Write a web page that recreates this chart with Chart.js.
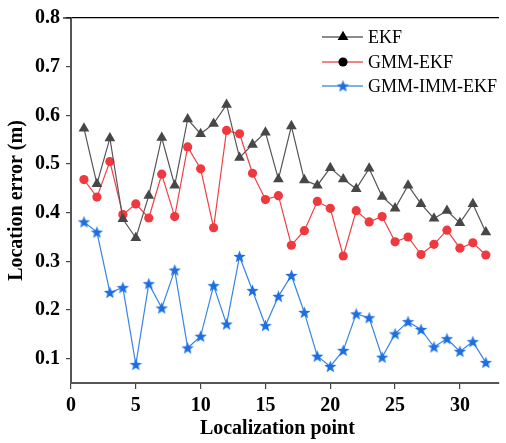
<!DOCTYPE html>
<html>
<head>
<meta charset="utf-8">
<script src="https://cdn.jsdelivr.net/npm/chart.js@4.4.1/dist/chart.umd.min.js"></script>
<style>
    html, body { margin: 0; padding: 0; background: #fff; }
    #wrap { width: 506px; height: 443px; }
</style>
</head>
<body>
<div id="wrap"><canvas id="chart" width="506" height="443"></canvas></div>
<script>
const points = [1, 2, 3, 4, 5, 6, 7, 8, 9, 10, 11, 12, 13, 14, 15, 16,
    17, 18, 19, 20, 21, 22, 23, 24, 25, 26, 27, 28, 29, 30, 31, 32];

const ekf = [0.573, 0.459, 0.553, 0.387, 0.348, 0.435, 0.554, 0.456, 0.592, 0.562, 0.583,
    0.622, 0.513, 0.540, 0.565, 0.469, 0.578, 0.467, 0.456, 0.492, 0.469, 0.449,
    0.491, 0.433, 0.409, 0.456, 0.418, 0.388, 0.404, 0.379, 0.418, 0.360];

const gmmEkf = [0.468, 0.432, 0.505, 0.396, 0.418, 0.389, 0.479, 0.392, 0.535, 0.490, 0.369,
    0.569, 0.562, 0.481, 0.427, 0.435, 0.333, 0.363, 0.423, 0.409, 0.311, 0.404,
    0.381, 0.392, 0.340, 0.350, 0.314, 0.335, 0.364, 0.327, 0.338, 0.313];

const gmmImmEkf = [0.381, 0.360, 0.236, 0.246, 0.088, 0.254, 0.204, 0.282, 0.122, 0.146, 0.250,
    0.171, 0.310, 0.240, 0.168, 0.228, 0.271, 0.195, 0.105, 0.084, 0.117, 0.192,
    0.184, 0.103, 0.151, 0.176, 0.160, 0.124, 0.141, 0.115, 0.135, 0.092];

const xTicks = [0, 5, 10, 15, 20, 25, 30];
const yTicks = [0.1, 0.2, 0.3, 0.4, 0.5, 0.6, 0.7, 0.8];
const seriesNames = ["EKF", "GMM-EKF", "GMM-IMM-EKF"];

// filled five point star used as the point style of the last series
function makeStar(color, r) {
    const c = document.createElement("canvas");
    const s = Math.ceil(r * 2 + 2);
    c.width = s;
    c.height = s;
    const g = c.getContext("2d");
    g.fillStyle = color;
    g.beginPath();
    for (let i = 0; i < 10; i++) {
        const rad = i % 2 === 0 ? r : r * 0.42;
        const a = -Math.PI / 2 + i * Math.PI / 5;
        const px = s / 2 + rad * Math.cos(a);
        const py = s / 2 + 0.5 + rad * Math.sin(a);
        if (i === 0) g.moveTo(px, py); else g.lineTo(px, py);
    }
    g.closePath();
    g.fill();
    return c;
}

const star = makeStar("#1c6fe3", 6.5);
const serif = "'Liberation Serif', 'Times New Roman', serif";

const toXY = (arr) => arr.map((v, i) => ({ x: points[i], y: v }));

const legendPlugin = {
    id: "lineLegend",
    afterDraw(chart) {
        const ctx = chart.ctx;
        const rows = [37, 62, 86];
        ctx.save();
        // top frame line reaches a little past the y axis, as in the original
        ctx.strokeStyle = "#000";
        ctx.lineWidth = 1.2;
        ctx.beginPath();
        ctx.moveTo(63, chart.chartArea.top);
        ctx.lineTo(chart.chartArea.left, chart.chartArea.top);
        ctx.stroke();
        chart.data.datasets.forEach((ds, i) => {
            const y = rows[i];
            ctx.strokeStyle = ds.legendLine;
            ctx.lineWidth = ds.legendWidth;
            ctx.beginPath();
            ctx.moveTo(322, y);
            ctx.lineTo(363, y);
            ctx.stroke();
            Chart.helpers.drawPoint(ctx, {
                pointStyle: ds.pointStyle,
                radius: ds.pointRadius,
                borderWidth: 0,
                rotation: 0
            }, 343, y);
            ctx.fillStyle = "#000";
            ctx.font = "18px " + serif;
            ctx.textAlign = "left";
            ctx.textBaseline = "middle";
            ctx.fillText(seriesNames[i], 368, y + 1);
        });
        ctx.restore();
    }
};

const ctx = document.getElementById("chart").getContext("2d");
new Chart(ctx, {
    type: "line",
    data: {
        datasets: [
            {
                label: seriesNames[0],
                data: toXY(ekf),
                borderColor: "#555555",
                borderWidth: 1.2,
                backgroundColor: "#474747",
                pointBackgroundColor: "#474747",
                pointBorderWidth: 0,
                pointStyle: "triangle",
                pointRadius: 6.2,
                legendLine: "#666666",
                legendWidth: 1.5
            },
            {
                label: seriesNames[1],
                data: toXY(gmmEkf),
                borderColor: "#ef4045",
                borderWidth: 1.2,
                backgroundColor: "#ee3a3f",
                pointBackgroundColor: "#ee3a3f",
                pointBorderWidth: 0,
                pointStyle: "circle",
                pointRadius: 4.6,
                legendLine: "#f05a5e",
                legendWidth: 1.5
            },
            {
                label: seriesNames[2],
                data: toXY(gmmImmEkf),
                borderColor: "#3884e4",
                borderWidth: 1.2,
                backgroundColor: "#1c6fe3",
                pointStyle: star,
                pointRadius: 6,
                legendLine: "#7fb0ec",
                legendWidth: 2.2
            }
        ]
    },
    options: {
        responsive: false,
        animation: false,
        layout: { padding: { left: 0, right: 0, top: 0, bottom: 0 } },
        plugins: {
            legend: { display: false },
            tooltip: { enabled: false }
        },
        scales: {
            x: {
                type: "linear",
                position: "bottom",
                min: 0,
                max: 33,
                afterFit: (s) => { s.height = 60; },
                afterBuildTicks: (s) => { s.ticks = xTicks.map((v) => ({ value: v })); },
                border: { color: "#555555", width: 2 },
                grid: { drawOnChartArea: false, tickLength: 6, color: "#444444", lineWidth: 1.2 },
                ticks: {
                    color: "#000",
                    padding: 5,
                    font: { family: serif, size: 20, weight: "bold" }
                },
                title: {
                    display: true,
                    text: "Localization point   ",
                    color: "#000",
                    padding: { top: 0, bottom: 2 },
                    font: { family: serif, size: 20, weight: "bold" }
                }
            },
            x2: {
                type: "linear",
                position: "top",
                min: 0,
                max: 33,
                afterFit: (s) => { s.height = 15; },
                border: { color: "#000", width: 1.2 },
                grid: { display: false, drawTicks: false },
                ticks: { display: false }
            },
            y: {
                type: "linear",
                min: 0.05,
                max: 0.8,
                afterFit: (s) => { s.width = 71; },
                afterBuildTicks: (s) => { s.ticks = yTicks.map((v) => ({ value: v })); },
                border: { color: "#555555", width: 2 },
                grid: { drawOnChartArea: false, tickLength: 5, color: "#444444", lineWidth: 1.2 },
                ticks: {
                    color: "#000",
                    padding: 6,
                    font: { family: serif, size: 20, weight: "bold" },
                    callback: (v) => v.toFixed(1)
                },
                title: {
                    display: true,
                    text: "Location error (m)",
                    color: "#000",
                    padding: { top: 5, bottom: 0 },
                    font: { family: serif, size: 20, weight: "bold" }
                }
            }
        }
    },
    plugins: [legendPlugin]
});
</script>
</body>
</html>
